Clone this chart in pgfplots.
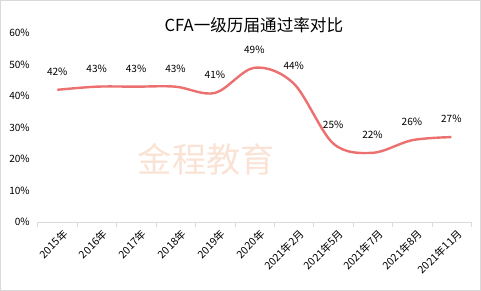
\documentclass[border=0pt]{standalone}
\usepackage{pgfplots}
\pgfplotsset{compat=1.18}
\usepackage{fontspec}
\setmainfont{Noto Sans CJK SC}
\definecolor{linered}{RGB}{236,112,112}
\definecolor{wm}{RGB}{250,226,212}
\definecolor{framegray}{RGB}{217,217,217}
\begin{document}
\begin{tikzpicture}
\begin{axis}[
  scale only axis,
  width=431pt, height=188pt,
  xmin=-0.5, xmax=10.5,
  ymin=0, ymax=60,
  clip=false,
  axis x line=bottom,
  axis y line=left,
  x axis line style={draw=framegray,-},
  y axis line style={draw=none},
  ytick={0,10,...,60},
  yticklabels={0\%,10\%,20\%,30\%,40\%,50\%,60\%},
  ytick style={draw=none},
  xtick={0,...,10},
  xticklabels={2015年,2016年,2017年,2018年,2019年,2020年,2021年2月,2021年5月,2021年7月,2021年8月,2021年11月},
  xtick style={draw=none},
  minor xtick={-0.5,0.5,...,10.5},
  minor tick length=5pt,
  tick align=outside,
  minor x tick style={draw=framegray},
  xticklabel style={rotate=45, anchor=north east, font=\fontsize{10.5}{12}\selectfont, inner sep=1pt, yshift=-4pt, xshift=3pt},
  yticklabel style={font=\fontsize{10}{12}\selectfont},
  /pgf/number format/assume math mode=true,
  nodes near coords={\pgfmathprintnumber{\pgfplotspointmeta}\%},
  nodes near coords style={anchor=center, yshift=18pt, font=\fontsize{10}{12}\selectfont, text=black},
  every axis plot/.append style={line width=2.4pt},
]
\draw[framegray, line width=0.8pt] (rel axis cs:-0.0858,-0.3590) rectangle (rel axis cs:1.0220,1.1729);
\node[text=wm, font=\fontsize{34}{36}\selectfont] at (rel axis cs:0.389,0.33) {金程教育};
\node[font=\fontsize{16.5}{18}\selectfont] at (rel axis cs:0.499,1.043) {CFA一级历届通过率对比};
\addplot[color=linered, smooth, tension=0.55, mark=none] coordinates {
(0,42) (1,43) (2,43) (3,43) (4,41) (5,49) (6,44) (7,25) (8,22) (9,26) (10,27)
};
\end{axis}
\end{tikzpicture}
\end{document}
